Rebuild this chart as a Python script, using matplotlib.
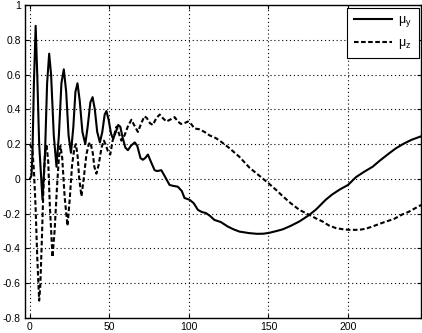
import matplotlib
matplotlib.use("Agg")
import matplotlib.pyplot as plt

# mu_y (solid)
xy = [0, 1, 1.6, 2.5, 3.6, 4.6, 5.8, 7.9, 9.5, 10.8, 12.1, 13.3, 15, 16.7, 18.2, 19.8,
      21.3, 22.8, 24.3, 25.8, 27.3, 28.6, 29.9, 31.3, 33, 34.8, 36.3, 38, 39.4, 40.8,
      42.3, 44, 45.5, 47, 48.1, 49.5, 51, 52.3, 54, 55.5, 56.8, 58.5, 60, 61.6, 63.5,
      65.9, 67.5, 69.5, 71, 72.5, 74.2, 76, 78.4, 80, 82.6, 84.5, 87.8, 90, 93, 95.5,
      97.2, 100.4, 103, 105.6, 108, 110.8, 113.5, 116, 120, 124.4, 128, 131.7, 138,
      143, 147, 150.6, 155, 159, 164, 169.4, 175.7, 180, 186, 190, 195, 200, 205,
      210, 215.5, 220, 226, 230, 234.5, 240, 246]
mu_y = [0.0, 0.02, 0.15, 0.55, 0.88, 0.6, 0.2, -0.12, 0.15, 0.55, 0.72, 0.6, 0.25, 0.07,
        0.25, 0.55, 0.63, 0.5, 0.25, 0.15, 0.3, 0.5, 0.55, 0.45, 0.27, 0.2, 0.3, 0.44,
        0.47, 0.4, 0.27, 0.21, 0.27, 0.37, 0.39, 0.34, 0.26, 0.23, 0.27, 0.31, 0.3, 0.23,
        0.18, 0.165, 0.19, 0.21, 0.19, 0.12, 0.11, 0.12, 0.14, 0.1, 0.05, 0.045, 0.05,
        0.02, -0.035, -0.04, -0.045, -0.07, -0.11, -0.12, -0.14, -0.178, -0.19, -0.197,
        -0.215, -0.236, -0.248, -0.274, -0.29, -0.303, -0.312, -0.316, -0.315, -0.31,
        -0.3, -0.29, -0.27, -0.245, -0.207, -0.175, -0.12, -0.09, -0.06, -0.035, 0.01,
        0.04, 0.07, 0.105, 0.148, 0.175, 0.2, 0.225, 0.245]

# mu_z (dashed)
xz = [0, 1.5, 2.5, 3.5, 4.6, 5.8, 6.5, 7.5, 8.5, 9.5, 10.5, 11.5, 12.5, 14.2, 15.5, 17,
      18.2, 19.2, 20.3, 21.8, 23.6, 25, 26.5, 28, 28.9, 30, 31, 32.4, 33.8, 35.5, 37, 38,
      39.5, 40.5, 41.8, 43.2, 45, 46.5, 47.5, 49, 50.5, 52, 54.4, 56, 57.5, 59.5, 61.5,
      63.8, 65.5, 67.9, 70, 72, 73.5, 75.5, 77.3, 79.5, 81.6, 83.5, 85.8, 88, 91, 93, 95,
      97, 99.3, 101, 103.5, 106.6, 109.8, 113, 117, 120, 125, 131.7, 138, 144, 150, 155,
      159, 164, 169.4, 175.7, 180, 184, 188, 192.4, 197, 200.8, 207, 211, 215, 220, 224,
      229, 234, 238, 242, 246]
mu_z = [0.2, 0.17, 0.05, -0.15, -0.45, -0.7, -0.62, -0.35, -0.05, 0.15, 0.19, 0.1, -0.15,
        -0.45, -0.3, -0.05, 0.12, 0.19, 0.12, -0.1, -0.27, -0.12, 0.08, 0.18, 0.2, 0.13,
        0.0, -0.1, 0.0, 0.14, 0.2, 0.21, 0.15, 0.07, 0.03, 0.08, 0.18, 0.22, 0.2, 0.16,
        0.14, 0.22, 0.3, 0.26, 0.22, 0.25, 0.3, 0.34, 0.31, 0.27, 0.32, 0.36, 0.35, 0.32,
        0.31, 0.35, 0.37, 0.35, 0.33, 0.34, 0.355, 0.33, 0.316, 0.32, 0.33, 0.32, 0.29,
        0.285, 0.27, 0.25, 0.234, 0.215, 0.18, 0.127, 0.065, 0.02, -0.025, -0.065, -0.1,
        -0.14, -0.178, -0.207, -0.228, -0.245, -0.268, -0.283, -0.29, -0.293, -0.293,
        -0.287, -0.275, -0.258, -0.245, -0.23, -0.205, -0.19, -0.17, -0.15]

xticks = [0, 50, 100, 150, 200]
yticks = [-0.8, -0.6, -0.4, -0.2, 0, 0.2, 0.4, 0.6, 0.8, 1]
ytick_labels = ["-0.8", "-0.6", "-0.4", "-0.2", "0", "0.2", "0.4", "0.6", "0.8", "1"]
labels = [r"$\mathregular{\mu_y}$", r"$\mathregular{\mu_z}$"]

plt.rcParams['font.family'] = ['Liberation Sans', 'DejaVu Sans']

fig = plt.figure(figsize=(4.22, 3.33), dpi=100)
ax = fig.add_axes([25 / 422, 15 / 333, 396 / 422, 313 / 333])

ax.plot(xy, mu_y, color='black', lw=1.5, label=labels[0])
ax.plot(xz, mu_z, color='black', lw=1.5, dashes=(2.2, 1.2), label=labels[1])

ax.set_xlim(-3.1, 245.9)
ax.set_ylim(-0.8, 1.0)
ax.set_xticks(xticks)
ax.set_xticklabels([str(t) for t in xticks])
ax.set_yticks(yticks)
ax.set_yticklabels(ytick_labels)
ax.grid(True, color='black', linestyle=(0, (1, 2.5)), linewidth=0.8)
ax.tick_params(direction='in', length=3, width=0.8, top=True, right=True,
               labelsize=7.5, pad=3, colors='black')
for s in ax.spines.values():
    s.set_linewidth(1.0)
    s.set_color('black')

leg = ax.legend(loc='upper right', fontsize=9, handlelength=3.0, labelspacing=0.6,
                borderaxespad=0.2, fancybox=False, framealpha=1, edgecolor='black',
                borderpad=0.55, handletextpad=0.5)
leg.get_frame().set_linewidth(0.8)

fig.savefig("out.png", dpi=100)
